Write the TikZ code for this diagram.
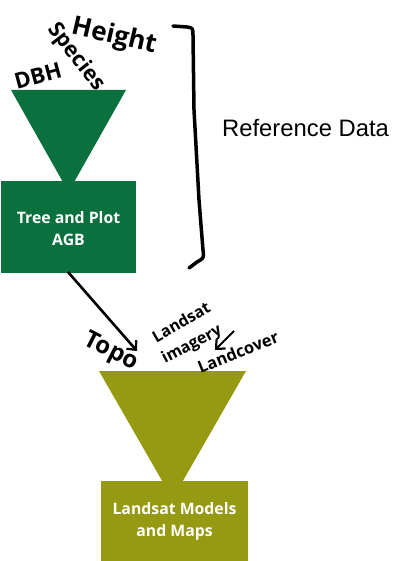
\documentclass[tikz,border=0pt]{standalone}
\usepackage{fontspec}
\setmainfont{Open Sans}
\newfontfamily\refont{Liberation Sans}
\usetikzlibrary{arrows.meta}
\definecolor{treegreen}{RGB}{10,112,62}
\definecolor{olive}{RGB}{150,153,18}
\tikzset{
  lbl/.style={font=\bfseries\fontsize{#1}{#1}\selectfont, inner sep=0pt, text=black},
  boxtxt/.style={text=white, font=\bfseries\fontsize{15.8}{22}\selectfont, align=center, inner sep=0pt},
  arr/.style={line width=2.6pt, -{Straight Barb[length=7pt,width=13pt,line width=2.2pt]}},
  brace/.style={line width=3.5pt, line cap=round, line join=round}
}
\begin{document}
\begin{tikzpicture}[x=1pt,y=-1pt]
\useasboundingbox (0,0) rectangle (407,561);
% green funnel
\fill[treegreen] (11,90) -- (126,90) -- (68.5,192) -- cycle;
\fill[treegreen] (1,181) rectangle (136,273);
\node[boxtxt] (tree) at (68.5,229) {Tree and Plot\\AGB};
\coordinate (treebot) at (68,272);
% olive funnel
\fill[olive] (99,371) -- (246,371) -- (172.5,499) -- cycle;
\fill[olive] (101,481) rectangle (248,561);
\node[boxtxt] (maps) at (174.5,521) {Landsat Models\\and Maps};
% top labels
\node[lbl=22, rotate=15] (dbh) at (38,76) {DBH};
\node[lbl=21.5, rotate=-52] (species) at (76,57) {Species};
\node[lbl=26, rotate=-13] (height) at (114,37) {Height};
% brace
\draw[brace] (173,26) -- (187,27) .. controls (193,28) .. (193,36) -- (194,110) -- (199,200) -- (203,250) .. controls (204,258) .. (197,262) -- (189,268);
\node[font=\refont\fontsize{23.8}{24}\selectfont, anchor=west, inner sep=0pt] (ref) at (222,128) {Reference Data};
% bottom labels
\node[lbl=24, rotate=-27] (topo) at (111,352) {Topo};
\node[lbl=16, rotate=30] (landsat) at (181,322) {Landsat};
\node[lbl=16, rotate=28] (imagery) at (192,345) {imagery};
\node[lbl=16.5, rotate=22] (landcover) at (238,352) {Landcover};
% arrows
\coordinate (bigend) at (137,351);
\draw[arr] (treebot) -- (bigend);
\coordinate (smallstart) at (234,331);
\coordinate (smallend) at (215,350);
\draw[arr, line width=2pt] (smallstart) -- (smallend);
\end{tikzpicture}
\end{document}
